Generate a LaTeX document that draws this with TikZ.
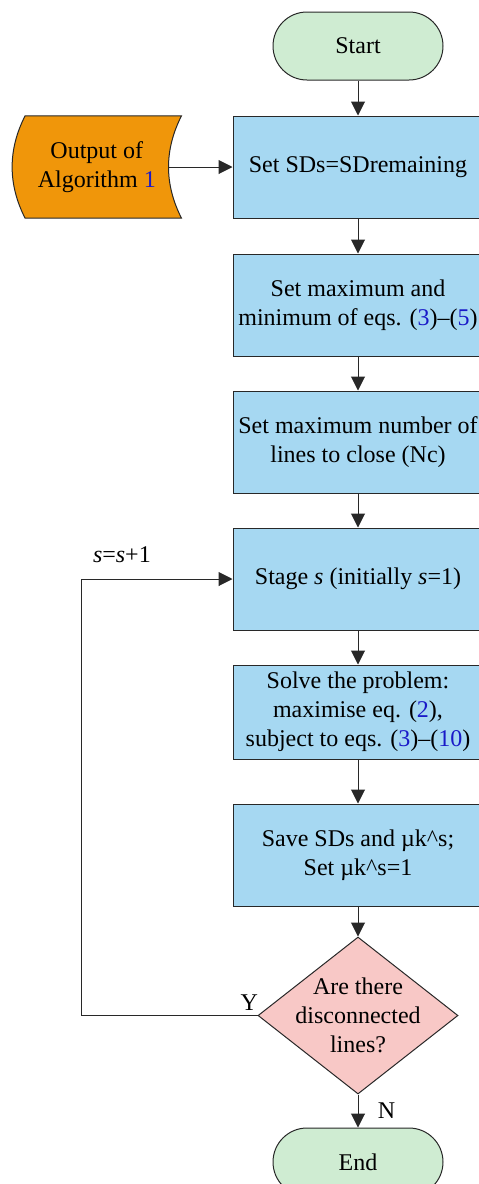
\documentclass[tikz,border=0pt]{standalone}
\usepackage{fontspec}
\setmainfont{Liberation Serif}
\usetikzlibrary{positioning,shapes.geometric,arrows.meta,calc,backgrounds}
\definecolor{boxblue}{RGB}{166,216,242}
\definecolor{termgreen}{RGB}{207,236,210}
\definecolor{outorange}{RGB}{240,150,10}
\definecolor{decpink}{RGB}{248,200,198}
\definecolor{refblue}{RGB}{25,25,200}
\definecolor{edge}{RGB}{40,40,40}
\newcommand{\refnum}[1]{\textcolor{refblue}{#1}}
\begin{document}
\begin{tikzpicture}[
    x=1pt, y=1pt,
    node distance=35pt,
    every node/.append style={font=\fontsize{24}{29}\selectfont, align=center},
    stepbox/.style={draw=edge, fill=boxblue, line width=1pt, minimum width=250pt, minimum height=102pt},
    terminal/.style={draw=edge, fill=termgreen, line width=1pt, rounded corners=34pt, minimum width=170pt, minimum height=68pt},
    decision/.style={diamond, draw=edge, fill=decpink, line width=1pt, inner sep=0pt, minimum width=200pt, minimum height=157pt},
    line/.style={draw=edge, line width=1pt, -{Triangle[length=14pt,width=14pt]}}
  ]
    \useasboundingbox (0,0) rectangle (479,-1184);
    \node [terminal] (start) at (358,-46) {Start};
    \node [stepbox, below=of start] (setsd) {Set SDs=SDremaining};
    \node [minimum width=169pt, minimum height=102pt, left=51pt of setsd] (algout) {Output of\\Algorithm \refnum{1}};
    \node [stepbox, below=of setsd] (setmax) {Set maximum and\\minimum of eqs. (\refnum{3})--(\refnum{5})};
    \node [stepbox, below=34pt of setmax] (setnc) {Set maximum number of\\lines to close (Nc)};
    \node [stepbox, below=34pt of setnc] (stage) {Stage \textit{s} (initially \textit{s}=1)};
    \node [stepbox, minimum height=94pt, below=34pt of stage] (solve) {Solve the problem:\\maximise eq. (\refnum{2}),\\subject to eqs. (\refnum{3})--(\refnum{10})};
    \node [stepbox, below=44pt of solve] (save) {Save SDs and µk\textasciicircum s;\\Set µk\textasciicircum s=1};
    \node [decision, below=30pt of save, label={[align=center]center:Are there\\disconnected\\lines?}] (check) {};
    \node [terminal, below=33pt of check] (finish) {End};
    \coordinate (back) at (81,0);
    \begin{scope}[on background layer]
      \draw [draw=edge, fill=outorange, line width=1pt]
        ($(algout.north west)+(13,0)$) -- (algout.north east)
        .. controls ($(algout.north east)+(-17.3,-34)$) and ($(algout.south east)+(-17.3,34)$) .. (algout.south east)
        -- ($(algout.south west)+(13,0)$)
        .. controls ($(algout.south west)+(-4.3,34)$) and ($(algout.north west)+(-4.3,-34)$) .. ($(algout.north west)+(13,0)$) -- cycle;
    \end{scope}
    \foreach \a/\b in {start/setsd, setsd/setmax, setmax/setnc, setnc/stage, stage/solve, solve/save, save/check}
      \draw [line] (\a) -- (\b);
    \draw [line] ($(algout.east)+(-13,0)$) -- (setsd.west);
    \draw [line] (check) -- node [right=16pt] {N} (finish);
    \draw [line] (check.west) node [anchor=south east, inner sep=1pt, xshift=2pt, yshift=4pt] {Y}
      -- (check.west -| back) |- node [pos=0.635, above=14pt, inner sep=2pt] {\textit{s}=\textit{s}+1} (stage.west);
  \end{tikzpicture}
\end{document}
